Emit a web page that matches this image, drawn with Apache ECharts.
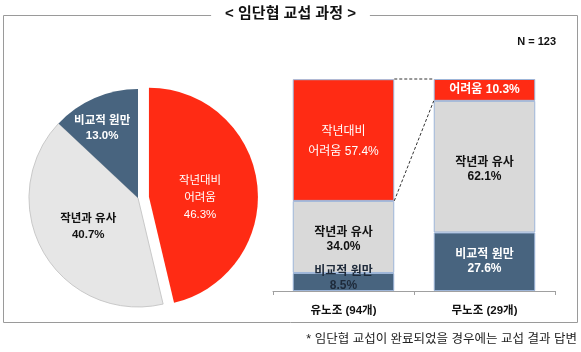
<!DOCTYPE html>
<html>
<head>
<meta charset="utf-8">
<script src="https://cdn.jsdelivr.net/npm/echarts@6/dist/echarts.min.js"></script>
<style>
  html, body { margin: 0; padding: 0; background: #fff; }
  #main { width: 581px; height: 352px; }
</style>
</head>
<body>
<div id="main"></div>
<script>
var FONT = 'Arial, "Liberation Sans", "Noto Sans CJK KR", sans-serif';

// 전체 (N = 123)
var pieNames = ['작년대비\n어려움', '작년과 유사', '비교적 원만'];
var pieValues = [46.3, 40.7, 13.0];

// 유노조 / 무노조
var categories = ['유노조 (94개)', '무노조 (29개)'];
var smoothValues = [8.5, 27.6];
var similarValues = [34.0, 62.1];
var hardValues = [57.4, 10.3];
var hardLabels = ['작년대비\n어려움', '어려움'];

var RED = '#FF2B14', GRAY = '#E6E6E6', BLUE = '#48647F';
var BAR_GRAY = '#D9D9D9';

var myChart = echarts.init(document.getElementById('main'));

var pieColors = [RED, GRAY, BLUE];
var pieLabelStyle = [
    {color: '#fff', fontWeight: 'normal', lineHeight: 17, fontSize: 11.5},
    {color: '#111', fontWeight: 'bold', lineHeight: 16, fontSize: 11.5},
    {color: '#fff', fontWeight: 'bold', lineHeight: 15, fontSize: 11.5}
];
var pieData = pieValues.map(function (v, i) {
    return {
        name: pieNames[i],
        value: v,
        selected: i === 0,
        itemStyle: {
            color: pieColors[i],
            borderColor: i === 1 ? '#C9C9C9' : pieColors[i],
            borderWidth: i === 1 ? 1 : 0
        },
        label: pieLabelStyle[i]
    };
});

function fmt(v) { return Number(v).toFixed(1) + '%'; }

// 막대 영역 연결 점선 (두 막대의 경계선을 이어줌)
var connectors = [
    [0, 1, smoothValues[0] + similarValues[0], smoothValues[1] + similarValues[1]],
    [0, 1, 100, 100]
];

option = {
    backgroundColor: '#ffffff',
    animation: false,
    textStyle: {fontFamily: FONT},
    graphic: [
        {
            type: 'rect',
            shape: {x: 3.5, y: 15.5, width: 574, height: 307},
            style: {fill: 'none', stroke: '#9A9A9A', lineWidth: 1},
            silent: true
        }
    ],
    title: [
        {
            text: '< 임단협 교섭 과정 >',
            left: 'center',
            top: 6,
            backgroundColor: '#fff',
            padding: [0, 14],
            textStyle: {fontSize: 15, fontWeight: 'bold', color: '#111', fontFamily: FONT}
        },
        {
            text: 'N = 123',
            right: 25,
            top: 36,
            padding: 0,
            textStyle: {fontSize: 11, fontWeight: 'bold', color: '#111', fontFamily: FONT}
        },
        {
            text: '* 임단협 교섭이 완료되었을 경우에는 교섭 결과 답변',
            right: 4,
            top: 333,
            padding: 0,
            textStyle: {fontSize: 12.5, fontWeight: 'normal', color: '#222', fontFamily: FONT}
        }
    ],
    grid: {left: 273, right: 26, top: 79, bottom: 61},
    xAxis: {
        type: 'category',
        data: categories,
        axisLine: {lineStyle: {color: '#A0A0A0', width: 1}},
        axisTick: {show: true, length: 4, lineStyle: {color: '#A0A0A0'}},
        axisLabel: {fontSize: 11.5, fontWeight: 'bold', color: '#111', margin: 14, fontFamily: FONT}
    },
    yAxis: {
        type: 'value',
        min: 0,
        max: 100,
        show: false
    },
    series: [
        {
            type: 'pie',
            center: [138, 198],
            radius: 109,
            startAngle: 90,
            clockwise: true,
            selectedMode: 'single',
            selectedOffset: 11,
            silent: true,
            label: {
                position: 'inside',
                fontFamily: FONT,
                formatter: function (p) { return p.name + '\n' + fmt(p.value); }
            },
            labelLine: {show: false},
            labelLayout: function (p) {
                if (p.dataIndex === 2) return {dx: -13, dy: -17};
                if (p.dataIndex === 0) return {dx: -6, dy: 8};
                return {};
            },
            data: pieData
        },
        {
            name: '비교적 원만',
            type: 'bar',
            stack: 'all',
            barWidth: '72%',
            itemStyle: {color: BLUE, borderColor: '#9DB5D8', borderWidth: 1},
            label: {
                show: true,
                position: 'inside',
                fontSize: 12,
                fontWeight: 'bold',
                lineHeight: 14,
                fontFamily: FONT,
                formatter: function (p) { return p.seriesName + '\n' + fmt(p.value); }
            },
            data: smoothValues.map(function (v, i) {
                return {value: v, label: {color: i === 0 ? '#1E2A3A' : '#fff', offset: i === 0 ? [0, -3] : [0, 0]}};
            })
        },
        {
            name: '작년과 유사',
            type: 'bar',
            stack: 'all',
            itemStyle: {color: BAR_GRAY, borderColor: '#9DB5D8', borderWidth: 1},
            label: {
                show: true,
                position: 'inside',
                color: '#111',
                fontSize: 12,
                fontWeight: 'bold',
                lineHeight: 14,
                fontFamily: FONT,
                formatter: function (p) { return p.seriesName + '\n' + fmt(p.value); }
            },
            data: similarValues.map(function (v) {
                return {value: v, label: {offset: [0, 3]}};
            })
        },
        {
            name: '작년대비 어려움',
            type: 'bar',
            stack: 'all',
            itemStyle: {color: RED, borderColor: '#9DB5D8', borderWidth: 1},
            label: {
                show: true,
                position: 'inside',
                color: '#fff',
                fontSize: 12,
                fontFamily: FONT,
                formatter: function (p) { return hardLabels[p.dataIndex] + ' ' + fmt(p.value); }
            },
            data: hardValues.map(function (v, i) {
                return {value: v, label: i === 0 ? {lineHeight: 20, fontWeight: 'normal', offset: [0, 2]} : {fontWeight: 'bold'}};
            })
        },
        {
            type: 'custom',
            silent: true,
            z: 5,
            encode: {x: [0, 1], y: [2, 3]},
            renderItem: function (params, api) {
                var p0 = api.coord([api.value(0), api.value(2)]);
                var p1 = api.coord([api.value(1), api.value(3)]);
                var half = api.size([1, 0])[0] * 0.72 / 2;
                return {
                    type: 'line',
                    shape: {x1: p0[0] + half, y1: p0[1], x2: p1[0] - half, y2: p1[1]},
                    style: {stroke: '#333', lineWidth: 1, lineDash: [3, 2]}
                };
            },
            data: connectors
        }
    ]
};

myChart.setOption(option);
</script>
</body>
</html>
